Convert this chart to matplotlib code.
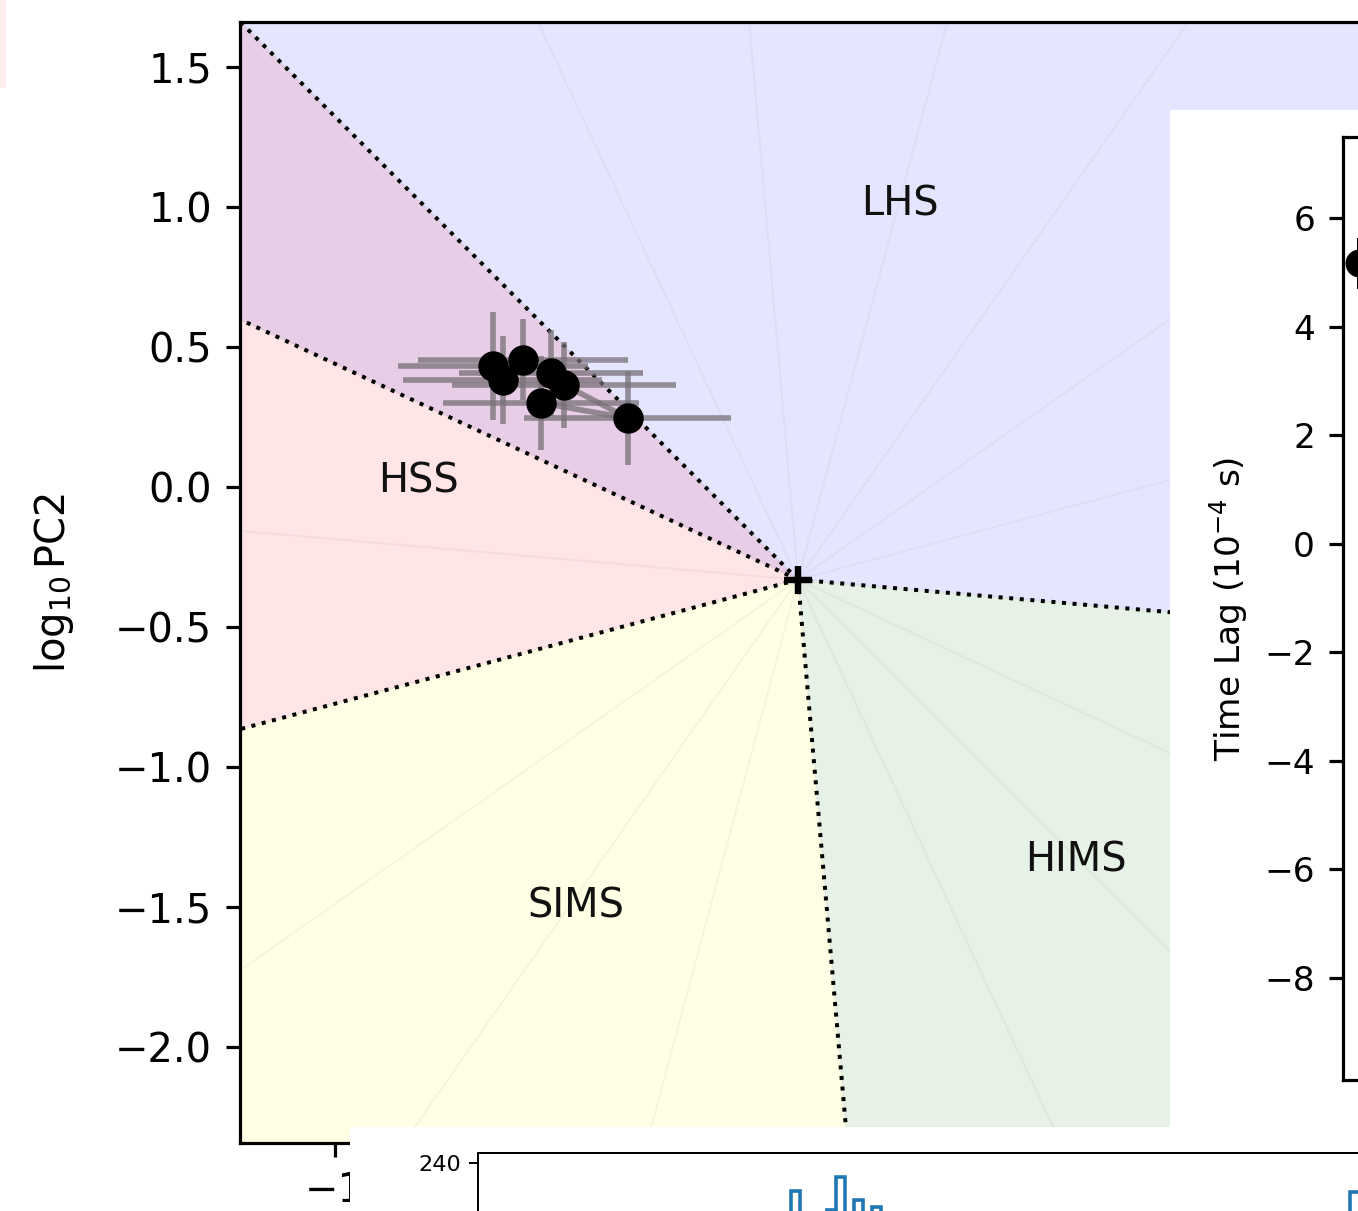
import matplotlib
matplotlib.use("Agg")
import matplotlib.pyplot as plt
import numpy as np
from matplotlib.patches import Wedge, Rectangle

# ---------------- data ----------------
# power-colour diagram points (log10 PC1, log10 PC2)
pc1 = [-0.435, -0.400, -0.328, -0.227, -0.180, 0.047, -0.263]
pc2 = [0.430, 0.382, 0.454, 0.406, 0.364, 0.245, 0.299]
pc1_err = [0.34, 0.354, 0.375, 0.33, 0.40, 0.37, 0.35]
pc2_err = [0.193, 0.157, 0.146, 0.154, 0.154, 0.168, 0.168]
centre_pc1 = 0.655
centre_pc2 = -0.332

state_labels = ["LHS", "HIMS", "SIMS", "HSS"]
state_hues = [(340, 500), (140, 220), (220, 300), (300, 360)]   # hue ranges (deg)
state_colors = ["blue", "green", "yellow", "red"]
state_label_x = [1.019, 1.648, -0.138, -0.699]
state_label_y = [1.008, -1.334, -1.500, 0.017]
boundary_hues = [0, 140, 220, 300, 340]
pc1_ticks = [-1.0]
pc2_ticks = [-2.0, -1.5, -1.0, -0.5, 0.0, 0.5, 1.0, 1.5]

# time-lag panel
lag_x = [0.8]
lag_val = [5.17]
lag_err = [0.47]
lag_ticks = [-8, -6, -4, -2, 0, 2, 4, 6]

# histogram panel
hist_edges = [313, 322, 331, 340, 349, 358, 367, 376, 385, 394, 403]
hist_counts = [212, 120, 120, 120, 193, 226, 120, 203, 120, 196]
hist2_edges = [872, 900]
hist2_counts = [211]
hist_ticks = [240]

# ---------------- figure ----------------
W, H, DPI = 1358, 1211, 288
fig = plt.figure(figsize=(W / DPI, H / DPI), dpi=DPI)


def rect(l, t, r, b):
    return [l / W, 1 - b / H, (r - l) / W, (b - t) / H]


def blank_axes(r, z):
    a = fig.add_axes(r, zorder=z)
    a.set_facecolor("white")
    a.set_xticks([])
    a.set_yticks([])
    for s in a.spines.values():
        s.set_visible(False)
    return a


# faint pink fragment at top-left
fig.patches.append(Rectangle((0, 1 - 88 / H), 6 / W, 88 / H, transform=fig.transFigure,
                             facecolor="#fff0ee", edgecolor="none", zorder=0))

# ---- main power-colour axes ----
ax = fig.add_axes(rect(240, 22, 1400, 1143), zorder=1)
scale = 280.0  # px per unit
xl = centre_pc1 - 558 / scale
ax.set_xlim(xl, xl + 1160 / scale)
ax.set_ylim(1.5 + 44.7 / scale - 1121 / scale, 1.5 + 44.7 / scale)

R = 12
for (h1, h2), col in zip(state_hues, state_colors):
    th1 = 135 - h2
    th2 = 135 - h1
    ax.add_patch(Wedge((centre_pc1, centre_pc2), R, th1, th2, facecolor=col,
                       alpha=0.1, edgecolor="none", lw=0, zorder=0))

for h in range(0, 360, 20):
    a = np.deg2rad(135 - h)
    ax.plot([centre_pc1, centre_pc1 + R * np.cos(a)], [centre_pc2, centre_pc2 + R * np.sin(a)],
            color="gray", alpha=0.08, lw=0.5, zorder=1)

for h in boundary_hues:
    a = np.deg2rad(135 - h)
    ax.plot([centre_pc1, centre_pc1 + R * np.cos(a)], [centre_pc2, centre_pc2 + R * np.sin(a)],
            color="black", ls=":", lw=1.0, zorder=2)

ax.plot([centre_pc1], [centre_pc2], marker="+", color="black", ms=7, mew=1.6, zorder=5)

for lab, x, y in zip(state_labels, state_label_x, state_label_y):
    ax.text(x, y, lab, ha="center", va="center", fontsize=10, color="#111111", zorder=4)

ax.errorbar(pc1, pc2, xerr=pc1_err, yerr=pc2_err, fmt="-", color="#777077", alpha=0.75,
            lw=1.4, elinewidth=1.4, zorder=3)
ax.plot(pc1, pc2, "o", color="black", ms=6.6, zorder=4)

ax.set_xticks(pc1_ticks)
ax.set_yticks(pc2_ticks)
ax.set_ylabel(r"$\log_{10}$PC2", fontsize=10)
ax.yaxis.set_label_coords((76 - 240) / 1160, 0.5)

# ---- right white panel with time lag axes ----
blank_axes(rect(1170, 110, 1500, 1127), 2)

ax2 = fig.add_axes(rect(1343, 137, 2143, 1080), zorder=3)
ax2.set_xlim(0.6, 10.6)
ax2.set_ylim(-8 - 102 / 54.29, 6 + 81 / 54.29)
ax2.set_yticks(lag_ticks)
ax2.set_xticks([])
ax2.tick_params(labelsize=8.6)
ax2.errorbar(lag_x, lag_val, yerr=lag_err, fmt="o", color="black", ms=6, lw=1.0, clip_on=False)
ax2.set_ylabel(r"Time Lag ($10^{-4}$ s)", fontsize=8.6)
ax2.yaxis.set_label_coords((1250 - 1343) / 800, 0.5)

# ---- bottom white panel with histogram ----
blank_axes(rect(350, 1127, 1500, 1300), 4)

ax3 = fig.add_axes(rect(478, 1153, 1400, 1403), zorder=5)
ax3.set_xlim(0, 922)
ax3.set_ylim(0, 250)
ax3.stairs(hist_counts, hist_edges, color="#1f77b4", lw=0.9)
ax3.stairs(hist2_counts, hist2_edges, color="#1f77b4", lw=0.9)
ax3.set_yticks(hist_ticks)
ax3.set_xticks([])
ax3.tick_params(labelsize=5.6, length=2.2, width=0.5, pad=2)
for s in ax3.spines.values():
    s.set_linewidth(0.5)

fig.savefig("out.png", dpi=DPI)
